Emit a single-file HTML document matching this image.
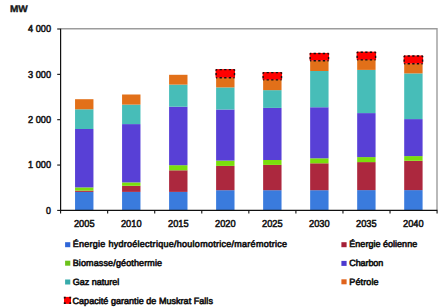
<!DOCTYPE html>
<html><head><meta charset="utf-8"><style>
html,body{margin:0;padding:0;background:#fff;}
body{width:442px;height:307px;overflow:hidden;}
svg{display:block;text-rendering:geometricPrecision;}
.ax{font-family:"Liberation Sans",sans-serif;font-weight:normal;font-size:10.1px;fill:#141414;stroke:#141414;stroke-width:0.55px;}
.lg{font-family:"Liberation Sans",sans-serif;font-weight:normal;font-size:9.0px;fill:#141414;stroke:#141414;stroke-width:0.6px;}
</style></head><body>
<svg width="442" height="307" viewBox="0 0 442 307">
<rect width="442" height="307" fill="#fff"/>
<rect x="75.05" y="191.90" width="18.40" height="18.10" fill="#3a7bdd"/>
<rect x="75.05" y="190.60" width="18.40" height="1.30" fill="#ac283e"/>
<rect x="75.05" y="187.40" width="18.40" height="3.20" fill="#7ade0c"/>
<rect x="75.05" y="129.00" width="18.40" height="58.40" fill="#5840d6"/>
<rect x="75.05" y="109.30" width="18.40" height="19.70" fill="#47bdb8"/>
<rect x="75.05" y="99.20" width="18.40" height="10.10" fill="#e27019"/>
<rect x="122.07" y="191.90" width="18.40" height="18.10" fill="#3a7bdd"/>
<rect x="122.07" y="185.80" width="18.40" height="6.10" fill="#ac283e"/>
<rect x="122.07" y="182.40" width="18.40" height="3.40" fill="#7ade0c"/>
<rect x="122.07" y="124.10" width="18.40" height="58.30" fill="#5840d6"/>
<rect x="122.07" y="104.60" width="18.40" height="19.50" fill="#47bdb8"/>
<rect x="122.07" y="94.50" width="18.40" height="10.10" fill="#e27019"/>
<rect x="169.09" y="191.90" width="18.40" height="18.10" fill="#3a7bdd"/>
<rect x="169.09" y="170.30" width="18.40" height="21.60" fill="#ac283e"/>
<rect x="169.09" y="165.20" width="18.40" height="5.10" fill="#7ade0c"/>
<rect x="169.09" y="106.70" width="18.40" height="58.50" fill="#5840d6"/>
<rect x="169.09" y="84.60" width="18.40" height="22.10" fill="#47bdb8"/>
<rect x="169.09" y="74.80" width="18.40" height="9.80" fill="#e27019"/>
<rect x="216.11" y="190.20" width="18.40" height="19.80" fill="#3a7bdd"/>
<rect x="216.11" y="165.90" width="18.40" height="24.30" fill="#ac283e"/>
<rect x="216.11" y="160.60" width="18.40" height="5.30" fill="#7ade0c"/>
<rect x="216.11" y="109.50" width="18.40" height="51.10" fill="#5840d6"/>
<rect x="216.11" y="87.40" width="18.40" height="22.10" fill="#47bdb8"/>
<rect x="216.11" y="77.80" width="18.40" height="9.60" fill="#e27019"/>
<rect x="215.61" y="69.10" width="19.40" height="8.70" fill="#ff0000"/>
<path d="M216.11 69.60 H234.51 M216.11 77.80 H234.51 M216.11 69.60 V77.80 M234.51 69.60 V77.80" fill="none" stroke="#111" stroke-width="1.4" stroke-dasharray="2.3 2.3" stroke-dashoffset="1.15"/>
<rect x="263.13" y="190.20" width="18.40" height="19.80" fill="#3a7bdd"/>
<rect x="263.13" y="164.90" width="18.40" height="25.30" fill="#ac283e"/>
<rect x="263.13" y="160.00" width="18.40" height="4.90" fill="#7ade0c"/>
<rect x="263.13" y="107.90" width="18.40" height="52.10" fill="#5840d6"/>
<rect x="263.13" y="90.15" width="18.40" height="17.75" fill="#47bdb8"/>
<rect x="263.13" y="79.85" width="18.40" height="10.30" fill="#e27019"/>
<rect x="262.63" y="72.10" width="19.40" height="7.75" fill="#ff0000"/>
<path d="M263.13 72.60 H281.53 M263.13 79.85 H281.53 M263.13 72.60 V79.85 M281.53 72.60 V79.85" fill="none" stroke="#111" stroke-width="1.4" stroke-dasharray="2.3 2.3" stroke-dashoffset="1.15"/>
<rect x="310.15" y="190.20" width="18.40" height="19.80" fill="#3a7bdd"/>
<rect x="310.15" y="163.30" width="18.40" height="26.90" fill="#ac283e"/>
<rect x="310.15" y="158.30" width="18.40" height="5.00" fill="#7ade0c"/>
<rect x="310.15" y="107.25" width="18.40" height="51.05" fill="#5840d6"/>
<rect x="310.15" y="71.00" width="18.40" height="36.25" fill="#47bdb8"/>
<rect x="310.15" y="60.70" width="18.40" height="10.30" fill="#e27019"/>
<rect x="309.65" y="52.95" width="19.40" height="7.75" fill="#ff0000"/>
<path d="M310.15 53.45 H328.55 M310.15 60.70 H328.55 M310.15 53.45 V60.70 M328.55 53.45 V60.70" fill="none" stroke="#111" stroke-width="1.4" stroke-dasharray="2.3 2.3" stroke-dashoffset="1.15"/>
<rect x="357.17" y="190.10" width="18.40" height="19.90" fill="#3a7bdd"/>
<rect x="357.17" y="162.10" width="18.40" height="28.00" fill="#ac283e"/>
<rect x="357.17" y="157.10" width="18.40" height="5.00" fill="#7ade0c"/>
<rect x="357.17" y="113.10" width="18.40" height="44.00" fill="#5840d6"/>
<rect x="357.17" y="69.90" width="18.40" height="43.20" fill="#47bdb8"/>
<rect x="357.17" y="59.90" width="18.40" height="10.00" fill="#e27019"/>
<rect x="356.67" y="51.70" width="19.40" height="8.20" fill="#ff0000"/>
<path d="M357.17 52.20 H375.57 M357.17 59.90 H375.57 M357.17 52.20 V59.90 M375.57 52.20 V59.90" fill="none" stroke="#111" stroke-width="1.4" stroke-dasharray="2.3 2.3" stroke-dashoffset="1.15"/>
<rect x="404.19" y="190.10" width="18.40" height="19.90" fill="#3a7bdd"/>
<rect x="404.19" y="160.80" width="18.40" height="29.30" fill="#ac283e"/>
<rect x="404.19" y="156.10" width="18.40" height="4.70" fill="#7ade0c"/>
<rect x="404.19" y="119.10" width="18.40" height="37.00" fill="#5840d6"/>
<rect x="404.19" y="73.40" width="18.40" height="45.70" fill="#47bdb8"/>
<rect x="404.19" y="63.70" width="18.40" height="9.70" fill="#e27019"/>
<rect x="403.69" y="55.50" width="19.40" height="8.20" fill="#ff0000"/>
<path d="M404.19 56.00 H422.59 M404.19 63.70 H422.59 M404.19 56.00 V63.70 M422.59 56.00 V63.70" fill="none" stroke="#111" stroke-width="1.4" stroke-dasharray="2.3 2.3" stroke-dashoffset="1.15"/>
<path d="M60.5 28.75 H437 V210" fill="none" stroke="#9c9c9c" stroke-width="1.4"/>
<path d="M60.6 28.8 V210.4 M60 210.4 H437.5" fill="none" stroke="#111" stroke-width="1.2"/>
<path d="M57.2 210.40 H60.6" stroke="#111" stroke-width="1.1"/>
<path d="M57.2 165.05 H60.6" stroke="#111" stroke-width="1.1"/>
<path d="M57.2 119.70 H60.6" stroke="#111" stroke-width="1.1"/>
<path d="M57.2 74.35 H60.6" stroke="#111" stroke-width="1.1"/>
<path d="M57.2 29.00 H60.6" stroke="#111" stroke-width="1.1"/>
<path d="M60.60 210.4 V213.5" stroke="#111" stroke-width="1.1"/>
<path d="M107.66 210.4 V213.5" stroke="#111" stroke-width="1.1"/>
<path d="M154.72 210.4 V213.5" stroke="#111" stroke-width="1.1"/>
<path d="M201.78 210.4 V213.5" stroke="#111" stroke-width="1.1"/>
<path d="M248.84 210.4 V213.5" stroke="#111" stroke-width="1.1"/>
<path d="M295.90 210.4 V213.5" stroke="#111" stroke-width="1.1"/>
<path d="M342.96 210.4 V213.5" stroke="#111" stroke-width="1.1"/>
<path d="M390.02 210.4 V213.5" stroke="#111" stroke-width="1.1"/>
<path d="M437.08 210.4 V213.5" stroke="#111" stroke-width="1.1"/>
<rect x="65.1" y="242.2" width="5.2" height="5.0" fill="#2f66d8"/>
<rect x="341.4" y="242.2" width="5.2" height="5.0" fill="#a51f37"/>
<rect x="65.1" y="260.7" width="5.2" height="5.0" fill="#6cc21a"/>
<rect x="341.4" y="260.9" width="5.2" height="5.0" fill="#4d3ad0"/>
<rect x="65.1" y="279.5" width="5.2" height="5.0" fill="#37abab"/>
<rect x="341.4" y="279.3" width="5.2" height="5.0" fill="#e0631c"/>
<rect x="64.0" y="296.9" width="7.0" height="7.0" fill="#ff0000"/>
<rect x="64.6" y="297.5" width="5.8" height="5.8" fill="none" stroke="#111" stroke-width="1.6" stroke-dasharray="2.2 3.6" stroke-dashoffset="1.1"/>
<text x="51.0" y="213.80" text-anchor="end" class="ax" textLength="4.9" lengthAdjust="spacingAndGlyphs">0</text>
<text x="51.0" y="168.45" text-anchor="end" class="ax" textLength="23.0" lengthAdjust="spacingAndGlyphs">1 000</text>
<text x="51.0" y="123.10" text-anchor="end" class="ax" textLength="23.0" lengthAdjust="spacingAndGlyphs">2 000</text>
<text x="51.0" y="77.75" text-anchor="end" class="ax" textLength="23.0" lengthAdjust="spacingAndGlyphs">3 000</text>
<text x="51.0" y="32.40" text-anchor="end" class="ax" textLength="23.0" lengthAdjust="spacingAndGlyphs">4 000</text>
<text x="84.25" y="226.9" text-anchor="middle" class="ax" textLength="20.6" lengthAdjust="spacingAndGlyphs">2005</text>
<text x="131.27" y="226.9" text-anchor="middle" class="ax" textLength="20.6" lengthAdjust="spacingAndGlyphs">2010</text>
<text x="178.29" y="226.9" text-anchor="middle" class="ax" textLength="20.6" lengthAdjust="spacingAndGlyphs">2015</text>
<text x="225.31" y="226.9" text-anchor="middle" class="ax" textLength="20.6" lengthAdjust="spacingAndGlyphs">2020</text>
<text x="272.33" y="226.9" text-anchor="middle" class="ax" textLength="20.6" lengthAdjust="spacingAndGlyphs">2025</text>
<text x="319.35" y="226.9" text-anchor="middle" class="ax" textLength="20.6" lengthAdjust="spacingAndGlyphs">2030</text>
<text x="366.37" y="226.9" text-anchor="middle" class="ax" textLength="20.6" lengthAdjust="spacingAndGlyphs">2035</text>
<text x="413.39" y="226.9" text-anchor="middle" class="ax" textLength="20.6" lengthAdjust="spacingAndGlyphs">2040</text>
<text x="10.0" y="11.9" class="ax" style="font-size:9.5px;font-weight:bold;stroke-width:0.35px" textLength="17.8" lengthAdjust="spacingAndGlyphs">MW</text>
<text x="72.7" y="247.40" class="lg" textLength="214.3" lengthAdjust="spacing">Énergie hydroélectrique/houlomotrice/marémotrice</text>
<text x="349.3" y="247.40" class="lg" textLength="67.9" lengthAdjust="spacing">Énergie éolienne</text>
<text x="72.7" y="266.30" class="lg" textLength="89.4" lengthAdjust="spacing">Biomasse/géothermie</text>
<text x="349.3" y="266.30" class="lg" textLength="33.9" lengthAdjust="spacing">Charbon</text>
<text x="72.7" y="284.90" class="lg" textLength="46.6" lengthAdjust="spacing">Gaz naturel</text>
<text x="349.3" y="284.90" class="lg" textLength="29.2" lengthAdjust="spacing">Pétrole</text>
<text x="72.5" y="303.8" class="lg" textLength="140.4" lengthAdjust="spacing">Capacité garantie de Muskrat Falls</text>
</svg>
</body></html>
